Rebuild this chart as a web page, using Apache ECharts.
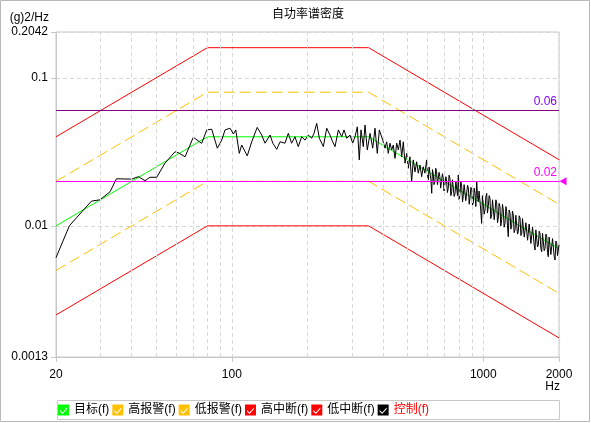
<!DOCTYPE html>
<html>
<head>
<meta charset="utf-8">
<script src="https://cdn.jsdelivr.net/npm/echarts@6/dist/echarts.min.js"></script>
<style>
html, body { margin: 0; padding: 0; background: #fff; }
#psd { width: 591px; height: 423px; }
</style>
</head>
<body>
<div id="psd"></div>
<script>
// axis ranges
const hzMin = 20, hzMax = 2000;
const psdMin = 0.0013, psdMax = 0.2042;
const minorGridHz = [30, 40, 50, 60, 70, 80, 90, 200, 300, 400, 500, 600, 700, 800, 900];

// profile breakpoints (Hz) and levels (g2/Hz)
const profileHz = [20, 80, 350, 2000];
const targetPsd = [0.01, 0.04, 0.04, 0.007];
const highAlarmPsd = [0.02, 0.08, 0.08, 0.014];
const lowAlarmPsd = [0.005, 0.02, 0.02, 0.0035];
const highAbortPsd = [0.04, 0.16, 0.16, 0.028];
const lowAbortPsd = [0.0025, 0.01, 0.01, 0.00175];

// horizontal limit lines
const limitLevels = [0.06, 0.02];

// measured control spectrum [Hz, g2/Hz]
const controlPoints = [
  [20,0.0061],[22.6,0.0100],[25.7,0.0128],[27.7,0.0147],[29.9,0.0150],[32.8,0.0170],[34.8,0.0208],[40.0,0.0207],
  [42.5,0.0215],[45.2,0.0202],[47.3,0.0213],[50.3,0.0213],[54.2,0.0265],[59.5,0.0317],[61.3,0.0312],[65.2,0.0293],
  [70.3,0.0397],[75.9,0.0361],[79.5,0.0445],[83.2,0.0450],[87.6,0.0335],[91.2,0.0380],[94.0,0.0445],[98.4,0.0457],
  [101.5,0.0418],[103.7,0.0445],[107.1,0.0309],[109.5,0.0352],[115.2,0.0297],[120,0.0370],[126.2,0.0463],[131.5,0.0411],
  [135.6,0.0362],[142,0.0411],[145.6,0.0362],[150.9,0.0329],[155.6,0.0370],[162.8,0.0362],[167.8,0.0422],[172.9,0.0362],
  [178.3,0.0400],[183.8,0.0343],[189.6,0.0400],[195.5,0.0380],[201.6,0.0411],[207.9,0.0391],[212.3,0.0422],[217.6,0.0493],
  [222.9,0.0391],[231.2,0.0343],[238.5,0.0457],[245.7,0.0411],[251.8,0.0370],[257.3,0.0343],[265.3,0.0445],[273.6,0.0400],
  [279.4,0.0445],[286.4,0.0391],[295.2,0.0411],[302.5,0.0362],[309,0.0400],[315.6,0.0467],[321.3,0.0279],[326.4,0.0445],
  [333.4,0.0343],[338.6,0.0480],[345.8,0.0326],[354.6,0.0422],[363.4,0.0335],[371,0.0457],[378.9,0.0309],[386,0.0445],
  [398.1,0.0380],[406.6,0.0335],[413,0.0370],[419,0.0309],[425.6,0.0362],[432.3,0.0326],[438.7,0.0352],[445.6,0.0286],
  [452.6,0.0362],[459.4,0.0326],[466.6,0.0380],[474,0.0293],[480.8,0.0370],[488.4,0.0265],[496.1,0.0309],[503.1,0.0245],
  [511,0.0293],[519,0.0199],[526.7,0.0279],[535,0.0232],[543.4,0.0271],[551.3,0.0227],[560,0.0258],[568.8,0.0215],
  [577,0.0251],[586,0.0227],[595.2,0.0279],[600,0.0221],[604.5,0.0204],[609,0.0250],[614,0.0245],[619,0.0205],
  [623.6,0.0166],[628,0.0240],[632,0.0227],[637,0.0190],[642,0.0199],[647,0.0245],[652,0.0232],[657,0.0190],
  [661.6,0.0189],[667,0.0230],[672,0.0215],[677,0.0180],[682.5,0.0184],[688,0.0225],[693,0.0210],[698,0.0172],
  [704,0.0175],[710,0.0215],[715,0.0199],[720,0.0168],[725.6,0.0180],[731,0.0220],[737,0.0210],[743,0.0160],
  [748.6,0.0170],[754,0.0205],[760,0.0199],[766,0.0158],[772,0.0166],[778,0.0200],[784,0.0195],[790,0.0160],
  [795.5,0.0221],[802,0.0150],[808,0.0166],[814,0.0200],[820.7,0.0184],[827,0.0145],[832.9,0.0162],[839,0.0190],
  [846,0.0195],[852,0.0148],[859.3,0.0150],[866,0.0188],[872.3,0.0180],[879,0.0140],[886,0.0157],[893,0.0182],
  [900,0.0175],[906,0.0138],[912.6,0.0143],[920,0.0180],[927,0.0166],[934,0.0135],[941.5,0.0199],[948,0.0160],
  [955,0.0146],[962,0.0172],[970,0.0170],[977,0.0128],[985,0.0104],[992,0.0160],[1000,0.0157],[1008,0.0120],
  [1016,0.0128],[1024,0.0158],[1032,0.0166],[1039,0.0122],[1046.5,0.0135],[1055,0.0160],[1063,0.0154],[1071,0.0112],
  [1080,0.0119],[1088,0.0150],[1096,0.0146],[1105,0.0110],[1113,0.0125],[1122,0.0150],[1130.5,0.0143],[1139,0.0105],
  [1147,0.0113],[1156,0.0142],[1165,0.0135],[1174,0.0100],[1183,0.0110],[1192,0.0140],[1201,0.0128],[1210,0.0098],
  [1220,0.0104],[1230,0.0135],[1239,0.0125],[1248,0.0100],[1257,0.00845],[1267,0.0128],[1277,0.0122],[1287,0.0095],
  [1297,0.0101],[1306,0.0126],[1316,0.0119],[1326,0.0090],[1337,0.00938],[1347,0.0118],[1358,0.0115],[1368,0.0088],
  [1378,0.00913],[1389,0.0117],[1400,0.0113],[1411,0.0086],[1422,0.00891],[1432,0.0112],[1443,0.0110],[1455,0.0084],
  [1466,0.00825],[1477,0.0105],[1489,0.0104],[1500,0.0080],[1510,0.00803],[1522,0.0103],[1534,0.0101],[1546,0.0076],
  [1558,0.00782],[1570,0.0098],[1581,0.00963],[1594,0.0074],[1606,0.00687],[1618,0.0094],[1631,0.00913],[1643,0.0072],
  [1655,0.00743],[1668,0.0092],[1681,0.00891],[1694,0.0070],[1707,0.00669],[1720,0.0089],[1733,0.00868],[1746,0.0068],
  [1760,0.00705],[1774,0.0088],[1788,0.00845],[1800,0.0066],[1813,0.00619],[1827,0.0084],[1842,0.00825],[1856,0.0064],
  [1871,0.00653],[1885,0.0082],[1899,0.00803],[1914,0.0062],[1929,0.00588],[1944,0.0079],[1959,0.00763],[1973,0.0063],
  [1987,0.00687],[2000,0.00743]
];

const font = "'Liberation Sans', 'Noto Sans CJK SC', sans-serif";
// square with a check mark cut out of it
const checkIcon = 'path://M0,0L11,0L11,11L0,11Z M2,7L4.5,9.5L9,4.5L9,3L4.5,8L2,5.5Z';

function pairs(hz, psd) {
  return hz.map((f, i) => [f, psd[i]]);
}
function tickText(v) {
  return String(+Number(v).toPrecision(4));
}

const axisGray = '#c8c8c8';
const gridDash = { color: '#d8d8d8', type: [4, 3], width: 1 };

const chart = echarts.init(document.getElementById('psd'));
chart.setOption({
  animation: false,
  backgroundColor: '#fff',
  textStyle: { fontFamily: font, fontSize: 12, color: '#000' },
  title: {
    text: '自功率谱密度',
    left: 272, top: 9, padding: 0,
    textStyle: { fontSize: 12, fontWeight: 'normal', color: '#000', fontFamily: font }
  },
  grid: {
    left: 56, right: 32, top: 32, bottom: 66, containLabel: false, outerBoundsMode: 'none',
    show: true, borderColor: axisGray, borderWidth: 1
  },
  legend: {
    left: 58, top: 404, padding: 0,
    itemWidth: 11, itemHeight: 11, itemGap: 3,
    icon: checkIcon,
    itemStyle: { borderWidth: 0 },
    textStyle: { fontSize: 12, color: '#000', fontFamily: font },
    data: [
      { name: '目标(f)' }, { name: '高报警(f)' }, { name: '低报警(f)' },
      { name: '高中断(f)' }, { name: '低中断(f)' },
      { name: '控制(f)', textStyle: { color: '#ff0000' } }
    ]
  },
  xAxis: {
    type: 'log', logBase: 10, min: hzMin, max: hzMax,
    axisLine: { lineStyle: { color: axisGray } },
    axisTick: { show: true, length: 5, lineStyle: { color: axisGray } },
    axisLabel: { color: '#000', fontSize: 12, margin: 12, showMinLabel: true, showMaxLabel: true, formatter: tickText },
    splitLine: { show: true, lineStyle: gridDash }
  },
  yAxis: {
    type: 'log', logBase: 10, min: psdMin, max: psdMax,
    name: '(g)2/Hz', nameLocation: 'end', nameGap: 8,
    nameTextStyle: { align: 'right', padding: [0, 7, 0, 0], fontSize: 12, color: '#000' },
    axisLine: { show: true, lineStyle: { color: axisGray } },
    axisTick: { show: true, length: 5, lineStyle: { color: axisGray } },
    axisLabel: { color: '#000', fontSize: 12, margin: 8, showMinLabel: true, showMaxLabel: true, formatter: tickText },
    splitLine: { show: true, lineStyle: gridDash }
  },
  graphic: [
    { type: 'rect', silent: true, shape: { x: 0.5, y: 0.5, width: 589, height: 421 },
      style: { fill: null, stroke: '#b8b8b8', lineWidth: 1 } },
    { type: 'rect', silent: true, shape: { x: 57.5, y: 400.5, width: 502, height: 19 },
      style: { fill: null, stroke: axisGray, lineWidth: 1 } },
    { type: 'text', silent: true,
      style: { text: 'Hz', x: 560, y: 387, align: 'right', verticalAlign: 'middle', fill: '#000', font: '12px ' + font } }
  ],
  series: [
    {
      name: 'minor grid', type: 'line', data: [], silent: true, z: 1,
      markLine: { symbol: 'none', silent: true, label: { show: false }, lineStyle: gridDash,
        data: minorGridHz.map(v => ({ xAxis: v })) }
    },
    { name: '低中断(f)', type: 'line', data: pairs(profileHz, lowAbortPsd), symbol: 'none', color: '#ff0000',
      lineStyle: { width: 1, color: '#ff0000' }, z: 2 },
    { name: '高中断(f)', type: 'line', data: pairs(profileHz, highAbortPsd), symbol: 'none', color: '#ff0000',
      lineStyle: { width: 1, color: '#ff0000' }, z: 2 },
    { name: '低报警(f)', type: 'line', data: pairs(profileHz, lowAlarmPsd), symbol: 'none', color: '#ffc000',
      lineStyle: { width: 1, color: '#ffc000', type: [11, 5] }, z: 2 },
    { name: '高报警(f)', type: 'line', data: pairs(profileHz, highAlarmPsd), symbol: 'none', color: '#ffc000',
      lineStyle: { width: 1, color: '#ffc000', type: [11, 5] }, z: 2 },
    { name: '目标(f)', type: 'line', data: pairs(profileHz, targetPsd), symbol: 'none', color: '#00ff00',
      lineStyle: { width: 1, color: '#00ff00' }, z: 3 },
    { name: '控制(f)', type: 'line', data: controlPoints, symbol: 'none', color: '#000000',
      lineStyle: { width: 1, color: '#000000' }, z: 4 },
    {
      name: 'limits', type: 'line', data: [], silent: true, z: 5,
      markLine: {
        symbol: 'none', silent: true,
        data: [
          { yAxis: limitLevels[0], lineStyle: { color: '#800080', type: 'solid', width: 1 },
            label: { formatter: '0.06', color: '#8000ff', position: 'insideEndTop', distance: [2, 3], fontSize: 12, fontFamily: font } },
          { yAxis: limitLevels[1], lineStyle: { color: '#ff00ff', type: 'solid', width: 1 },
            label: { formatter: '0.02', color: '#ff00ff', position: 'insideEndTop', distance: [2, 3], fontSize: 12, fontFamily: font } }
        ]
      },
      markPoint: {
        silent: true,
        data: [{ coord: [hzMax, limitLevels[1]], symbol: 'triangle', symbolSize: [8, 7], symbolRotate: 90,
          symbolOffset: [4, 0], itemStyle: { color: '#ff00ff' }, label: { show: false } }]
      }
    }
  ]
});
</script>
</body>
</html>
